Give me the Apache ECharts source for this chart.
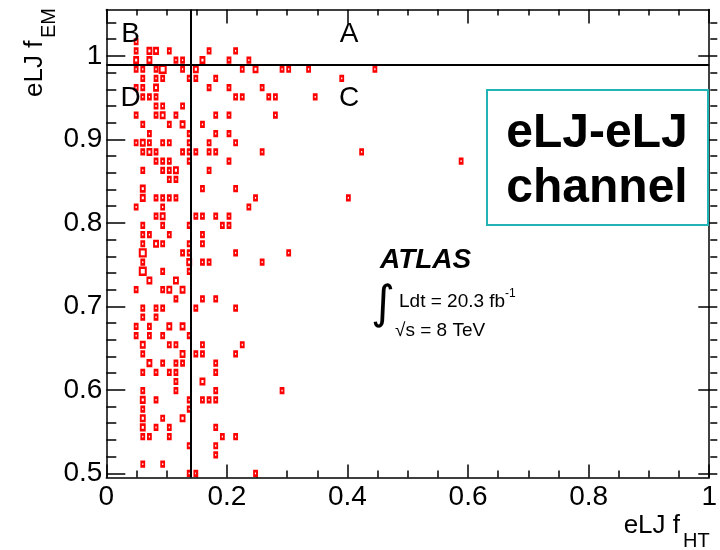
<!DOCTYPE html>
<html><head><meta charset="utf-8">
<script src="https://cdn.jsdelivr.net/npm/echarts@6/dist/echarts.min.js"></script>
<style>html,body{margin:0;padding:0;background:#fff}#c{width:720px;height:550px}</style>
</head><body><div id="c"></div>
<script>
// [eLJ f_HT, eLJ f_EM, box weight]
const regionA = [
  [0.1705,1.006,1],[0.2145,1.006,1],[0.1595,0.995,2],[0.2035,0.995,1],[0.2365,0.995,1]
];
const regionB = [
  [0.0495,1.017,1],
  [0.0495,1.006,1],[0.0715,1.006,2],[0.0825,1.006,2],[0.1045,1.006,1],
  [0.0495,0.995,2],[0.0715,0.995,2],[0.1155,0.995,1],[0.1265,0.995,1]
];
const regionC = [
  [0.1485,0.984,2],[0.2255,0.984,1],[0.2475,0.984,2],[0.2915,0.984,1],[0.3025,0.984,1],[0.3355,0.984,1],[0.4455,0.984,1],
  [0.1485,0.973,1],[0.1815,0.973,1],[0.3905,0.973,1],
  [0.1705,0.962,1],[0.2035,0.962,1],[0.2585,0.962,1],
  [0.2145,0.951,1],[0.2255,0.951,1],[0.2695,0.951,1],[0.2805,0.951,1],[0.3465,0.951,1],
  [0.1815,0.929,1],[0.2035,0.929,1],[0.2805,0.929,1],
  [0.1595,0.918,1],
  [0.1815,0.907,1],[0.2035,0.907,1],
  [0.1705,0.896,1],[0.2145,0.896,1],
  [0.1485,0.885,1],[0.1705,0.885,1],[0.1815,0.885,1],[0.2585,0.885,1],[0.4235,0.885,1],
  [0.2035,0.874,1],[0.5885,0.874,1],
  [0.1705,0.863,1],
  [0.1595,0.841,1],[0.2145,0.841,1],
  [0.2475,0.83,1],[0.4015,0.83,1],
  [0.2365,0.819,1],
  [0.1485,0.808,1],[0.1595,0.808,1],[0.1815,0.808,1],[0.2035,0.808,1],
  [0.1925,0.797,1],[0.2035,0.797,1],
  [0.1595,0.786,1],
  [0.1595,0.775,1],
  [0.2145,0.764,1],[0.3025,0.764,1],
  [0.1595,0.753,1],[0.1705,0.753,1],[0.2585,0.753,1],
  [0.1595,0.709,1],[0.1815,0.709,1],
  [0.1485,0.698,1],[0.2145,0.698,1],
  [0.1595,0.654,1],[0.2255,0.654,1],
  [0.1485,0.643,1],[0.1595,0.643,1],[0.2145,0.643,1],
  [0.1815,0.632,1],
  [0.1815,0.621,1],
  [0.1595,0.61,2],
  [0.1815,0.599,1],[0.2915,0.599,1],
  [0.1595,0.588,1],[0.1705,0.588,1],[0.1815,0.588,1],
  [0.1815,0.555,1],
  [0.1925,0.544,1],[0.2145,0.544,1],
  [0.1815,0.533,1],
  [0.1815,0.522,1],
  [0.1485,0.5,1],[0.2475,0.5,1]
];
const regionD = [
  [0.0495,0.984,1],[0.0605,0.984,1],[0.0825,0.984,1],[0.0935,0.984,3],[0.1265,0.984,1],
  [0.0605,0.973,1],[0.0825,0.973,1],[0.0935,0.973,1],[0.1375,0.973,1],
  [0.0495,0.962,1],[0.0605,0.962,1],[0.0825,0.962,2],
  [0.0605,0.951,1],[0.0715,0.951,1],[0.0825,0.951,1],
  [0.0825,0.94,1],[0.0935,0.94,1],[0.1265,0.94,1],
  [0.0495,0.929,1],[0.0825,0.929,1],[0.0935,0.929,2],[0.1155,0.929,1],
  [0.0605,0.918,1],[0.1045,0.918,1],[0.1265,0.918,2],
  [0.0715,0.907,1],[0.1375,0.907,1],
  [0.0495,0.896,1],[0.0605,0.896,2],[0.0715,0.896,1],[0.0935,0.896,1],[0.1045,0.896,1],[0.1375,0.896,1],
  [0.0605,0.885,1],[0.0715,0.885,2],[0.0825,0.885,1],[0.1265,0.885,1],[0.1375,0.885,1],
  [0.0825,0.874,1],[0.0935,0.874,1],[0.1045,0.874,1],[0.1375,0.874,1],
  [0.0605,0.863,1],[0.0935,0.863,1],[0.1045,0.863,1],[0.1155,0.863,2],
  [0.1045,0.852,1],[0.1155,0.852,1],
  [0.0605,0.841,2],
  [0.0605,0.83,2],[0.0825,0.83,1],[0.0935,0.83,1],[0.1045,0.83,1],[0.1155,0.83,1],
  [0.0495,0.819,1],[0.0935,0.819,1],
  [0.0825,0.808,1],[0.0935,0.808,2],
  [0.0605,0.797,1],[0.0935,0.797,1],[0.1375,0.797,1],
  [0.0605,0.786,1],[0.0715,0.786,1],[0.1045,0.786,1],
  [0.0605,0.775,1],[0.0825,0.775,2],[0.0935,0.775,1],[0.1375,0.775,1],
  [0.0605,0.764,3],[0.1265,0.764,1],[0.1375,0.764,1],
  [0.0605,0.753,1],[0.1375,0.753,2],
  [0.0605,0.742,3],[0.0935,0.742,1],[0.1375,0.742,1],
  [0.0715,0.731,2],[0.1155,0.731,2],
  [0.0495,0.72,1],[0.0935,0.72,1],[0.1045,0.72,2],[0.1265,0.72,2],
  [0.1155,0.709,1],
  [0.0605,0.698,1],[0.0825,0.698,1],[0.0935,0.698,1],
  [0.0605,0.687,1],[0.0825,0.687,1],
  [0.0495,0.676,1],[0.0715,0.676,1],[0.1045,0.676,2],[0.1265,0.676,2],
  [0.0495,0.665,1],[0.0715,0.665,1],[0.0935,0.665,1],[0.1375,0.665,1],
  [0.0605,0.654,2],[0.1045,0.654,1],[0.1155,0.654,1],
  [0.0605,0.643,1],[0.1265,0.643,2],
  [0.0715,0.632,2],[0.0935,0.632,1],[0.1155,0.632,1],[0.1265,0.632,1],
  [0.0605,0.621,1],[0.0825,0.621,1],[0.1045,0.621,1],[0.1155,0.621,1],
  [0.1155,0.61,1],
  [0.0605,0.599,1],[0.1155,0.599,1],
  [0.0605,0.588,2],[0.0825,0.588,1],[0.1375,0.588,1],
  [0.0605,0.577,1],[0.1375,0.577,1],
  [0.0605,0.566,2],[0.0935,0.566,1],[0.1265,0.566,2],
  [0.0605,0.555,2],[0.0825,0.555,1],[0.1045,0.555,1],
  [0.0605,0.544,1],[0.0715,0.544,1],[0.1045,0.544,1],
  [0.1375,0.533,1],
  [0.0605,0.511,1],[0.0935,0.511,1],
  [0.1375,0.5,1]
];
const cutHT = 0.14;
const cutEM = 0.99;
const xRange = [0, 1];
const yRange = [0.495, 1.0556];
const yMajor = [0.5, 1.0];
const yMinor = [0.5, 1.04];
const quadrantLabels = ['A', 'B', 'C', 'D'];

const F = '"Liberation Sans", Arial, Helvetica, sans-serif';
const BOX = {1: [3, 4.5], 2: [4, 5.5], 3: [6, 7]};
const black = '#000';
const L = 106.3, R = 2.7, T = 9.5, B = 72.5;
const H = 550 - T - B;
const perUnit = H / (yRange[1] - yRange[0]);
const pxOf = v => T + (yRange[1] - v) * perUnit;
const line = {color: black, width: 1.5};

function yTickAxis(grid, range, interval, len, pos, labels) {
  return {
    type: 'value', gridIndex: grid, position: pos, min: range[0], max: range[1], interval: interval,
    axisLine: {show: false}, splitLine: {show: false},
    axisTick: {show: true, inside: true, length: len, lineStyle: line},
    axisLabel: labels ? {show: true, fontSize: 28, fontFamily: F, color: black, margin: 4} : {show: false}
  };
}
function scatter(data) {
  return {
    type: 'scatter', xAxisIndex: 0, yAxisIndex: 0, data: data, symbol: 'rect',
    symbolSize: v => BOX[v[2]],
    itemStyle: {color: 'rgba(255,255,255,0)', borderColor: '#ff0000', borderWidth: 2.2, opacity: 1},
    silent: true, animation: false
  };
}

const chart = echarts.init(document.getElementById('c'), null, {renderer: 'canvas'});
const txt = (s, x, y, font, align) => ({
  type: 'text', z: 100,
  style: {text: s, x: x, y: y, font: font, fill: black, align: align || 'center', verticalAlign: 'middle',
          textAlign: align || 'center', textVerticalAlign: 'middle'}
});
const option = {
  animation: false,
  backgroundColor: '#fff',
  grid: [
    {left: L, right: R, top: T, bottom: B},
    {left: L, right: R, top: pxOf(yMinor[1]), bottom: 550 - pxOf(yMinor[0])},
    {left: L, right: R, top: pxOf(yMajor[1]), bottom: 550 - pxOf(yMajor[0])}
  ],
  xAxis: [
    {type: 'value', gridIndex: 0, position: 'bottom', min: xRange[0], max: xRange[1], interval: 0.2,
     axisLine: {show: true, onZero: false, lineStyle: line}, splitLine: {show: false},
     axisTick: {show: true, inside: true, length: 13, lineStyle: line},
     minorTick: {show: true, splitNumber: 4, length: 7, lineStyle: line},
     axisLabel: {show: true, fontSize: 28, fontFamily: F, color: black, margin: 6}},
    {type: 'value', gridIndex: 0, position: 'top', min: xRange[0], max: xRange[1], interval: 0.2,
     axisLine: {show: true, onZero: false, lineStyle: line}, splitLine: {show: false},
     axisTick: {show: true, inside: true, length: 14, lineStyle: line},
     minorTick: {show: true, splitNumber: 4, length: 6, lineStyle: line},
     axisLabel: {show: false}},
    {type: 'value', gridIndex: 1, show: false, min: 0, max: 1},
    {type: 'value', gridIndex: 2, show: false, min: 0, max: 1}
  ],
  yAxis: [
    {type: 'value', gridIndex: 0, position: 'left', min: yRange[0], max: yRange[1],
     axisLine: {show: true, onZero: false, lineStyle: line}, axisTick: {show: false},
     axisLabel: {show: false}, splitLine: {show: false}},
    {type: 'value', gridIndex: 0, position: 'right', min: yRange[0], max: yRange[1],
     axisLine: {show: true, onZero: false, lineStyle: line}, axisTick: {show: false},
     axisLabel: {show: false}, splitLine: {show: false}},
    yTickAxis(1, yMinor, 0.02, 10, 'left', false),
    yTickAxis(1, yMinor, 0.02, 7, 'right', false),
    yTickAxis(2, yMajor, 0.1, 19, 'left', true),
    yTickAxis(2, yMajor, 0.1, 19, 'right', false)
  ],
  series: [
    scatter(regionD), scatter(regionC), scatter(regionB),
    Object.assign(scatter(regionA), {
      markLine: {
        silent: true, symbol: 'none', animation: false, label: {show: false},
        lineStyle: {color: black, width: 2, type: 'solid'},
        data: [{xAxis: cutHT}, {yAxis: cutEM}]
      }
    })
  ],
  graphic: [
    txt(quadrantLabels[0], 349, 34, '28px ' + F),
    txt(quadrantLabels[1], 130.5, 34, '28px ' + F),
    txt(quadrantLabels[2], 349, 98, '28px ' + F),
    txt(quadrantLabels[3], 130.5, 98, '28px ' + F),
    {type: 'rect', z: 99, shape: {x: 487, y: 90, width: 221, height: 135},
     style: {fill: '#fff', stroke: '#22b4b4', lineWidth: 2}},
    txt('eLJ-eLJ', 597, 134, 'bold 48px ' + F),
    txt('channel', 597, 189, 'bold 48px ' + F),
    txt('ATLAS', 380, 260, 'italic bold 28px ' + F, 'left'),
    txt('\u222B', 383, 306, '46px "DejaVu Sans", sans-serif'),
    txt('Ldt = 20.3 fb', 399, 302, '19px ' + F, 'left'),
    txt('-1', 505, 294, '12px ' + F, 'left'),
    txt('\u221As = 8 TeV', 395, 331, '19px ' + F, 'left'),
    txt('eLJ f', 680, 526, '26px ' + F, 'right'),
    txt('HT', 683, 541, '20px ' + F, 'left'),
    {type: 'group', x: 35, y: 97, rotation: Math.PI / 2, z: 100, children: [
      {type: 'text', style: {text: 'eLJ f', x: 0, y: 0, font: '26px ' + F, fill: black, align: 'left', verticalAlign: 'middle', textAlign: 'left', textVerticalAlign: 'middle'}},
      {type: 'text', style: {text: 'EM', x: 59, y: 14, font: '20px ' + F, fill: black, align: 'left', verticalAlign: 'middle', textAlign: 'left', textVerticalAlign: 'middle'}}
    ]}
  ]
};
chart.setOption(option);
</script></body></html>
